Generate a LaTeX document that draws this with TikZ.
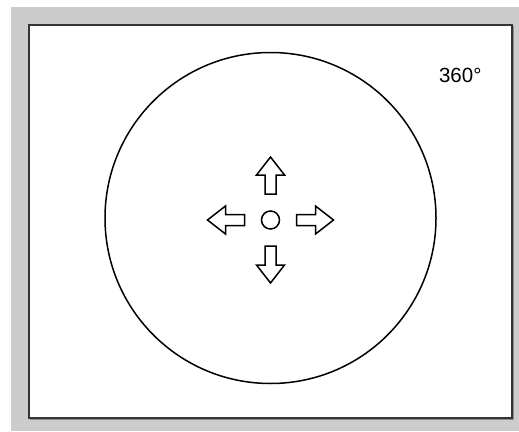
\documentclass[tikz,border=0pt]{standalone}
\usepackage{fontspec}
\setsansfont{Liberation Sans}
\tikzset{
  blockarrow/.pic={
    \draw[line width=1.5pt, line join=miter] (0,0) -- (-14,18) -- (-5.5,18) -- (-5.5,37) -- (5.5,37) -- (5.5,18) -- (14,18) -- cycle;
  }
}
\begin{document}
\begin{tikzpicture}[x=1pt, y=-1pt, every node/.style={font=\sffamily}]
\useasboundingbox (0,0) rectangle (519,431);
% frame
\fill[black!20] (11,7) rectangle (519,431);
\draw[black!45, line width=1.5pt] (30.5,26.5) rectangle (513.5,419.5);
\draw[fill=white, draw=black!80, line width=1.5pt] (29,25) rectangle (512,418);
% dial
\node[circle, draw, line width=1.5pt, minimum size=331pt, inner sep=0] (dial) at (270.5,218) {};
\node[anchor=base east, font=\sffamily\fontsize{20.5}{20.5}\selectfont] (angle) at (485,82) {360°};
\node[circle, draw, line width=1.5pt, minimum size=18pt, inner sep=0] (hub) at (270.5,220) {};
\path (hub) ++(0,-63) pic {blockarrow};
\path (hub) ++(0,63) pic[rotate=180] {blockarrow};
\path (hub) ++(-63,0) pic[rotate=90] {blockarrow};
\path (hub) ++(63,0) pic[rotate=-90] {blockarrow};
\end{tikzpicture}
\end{document}
